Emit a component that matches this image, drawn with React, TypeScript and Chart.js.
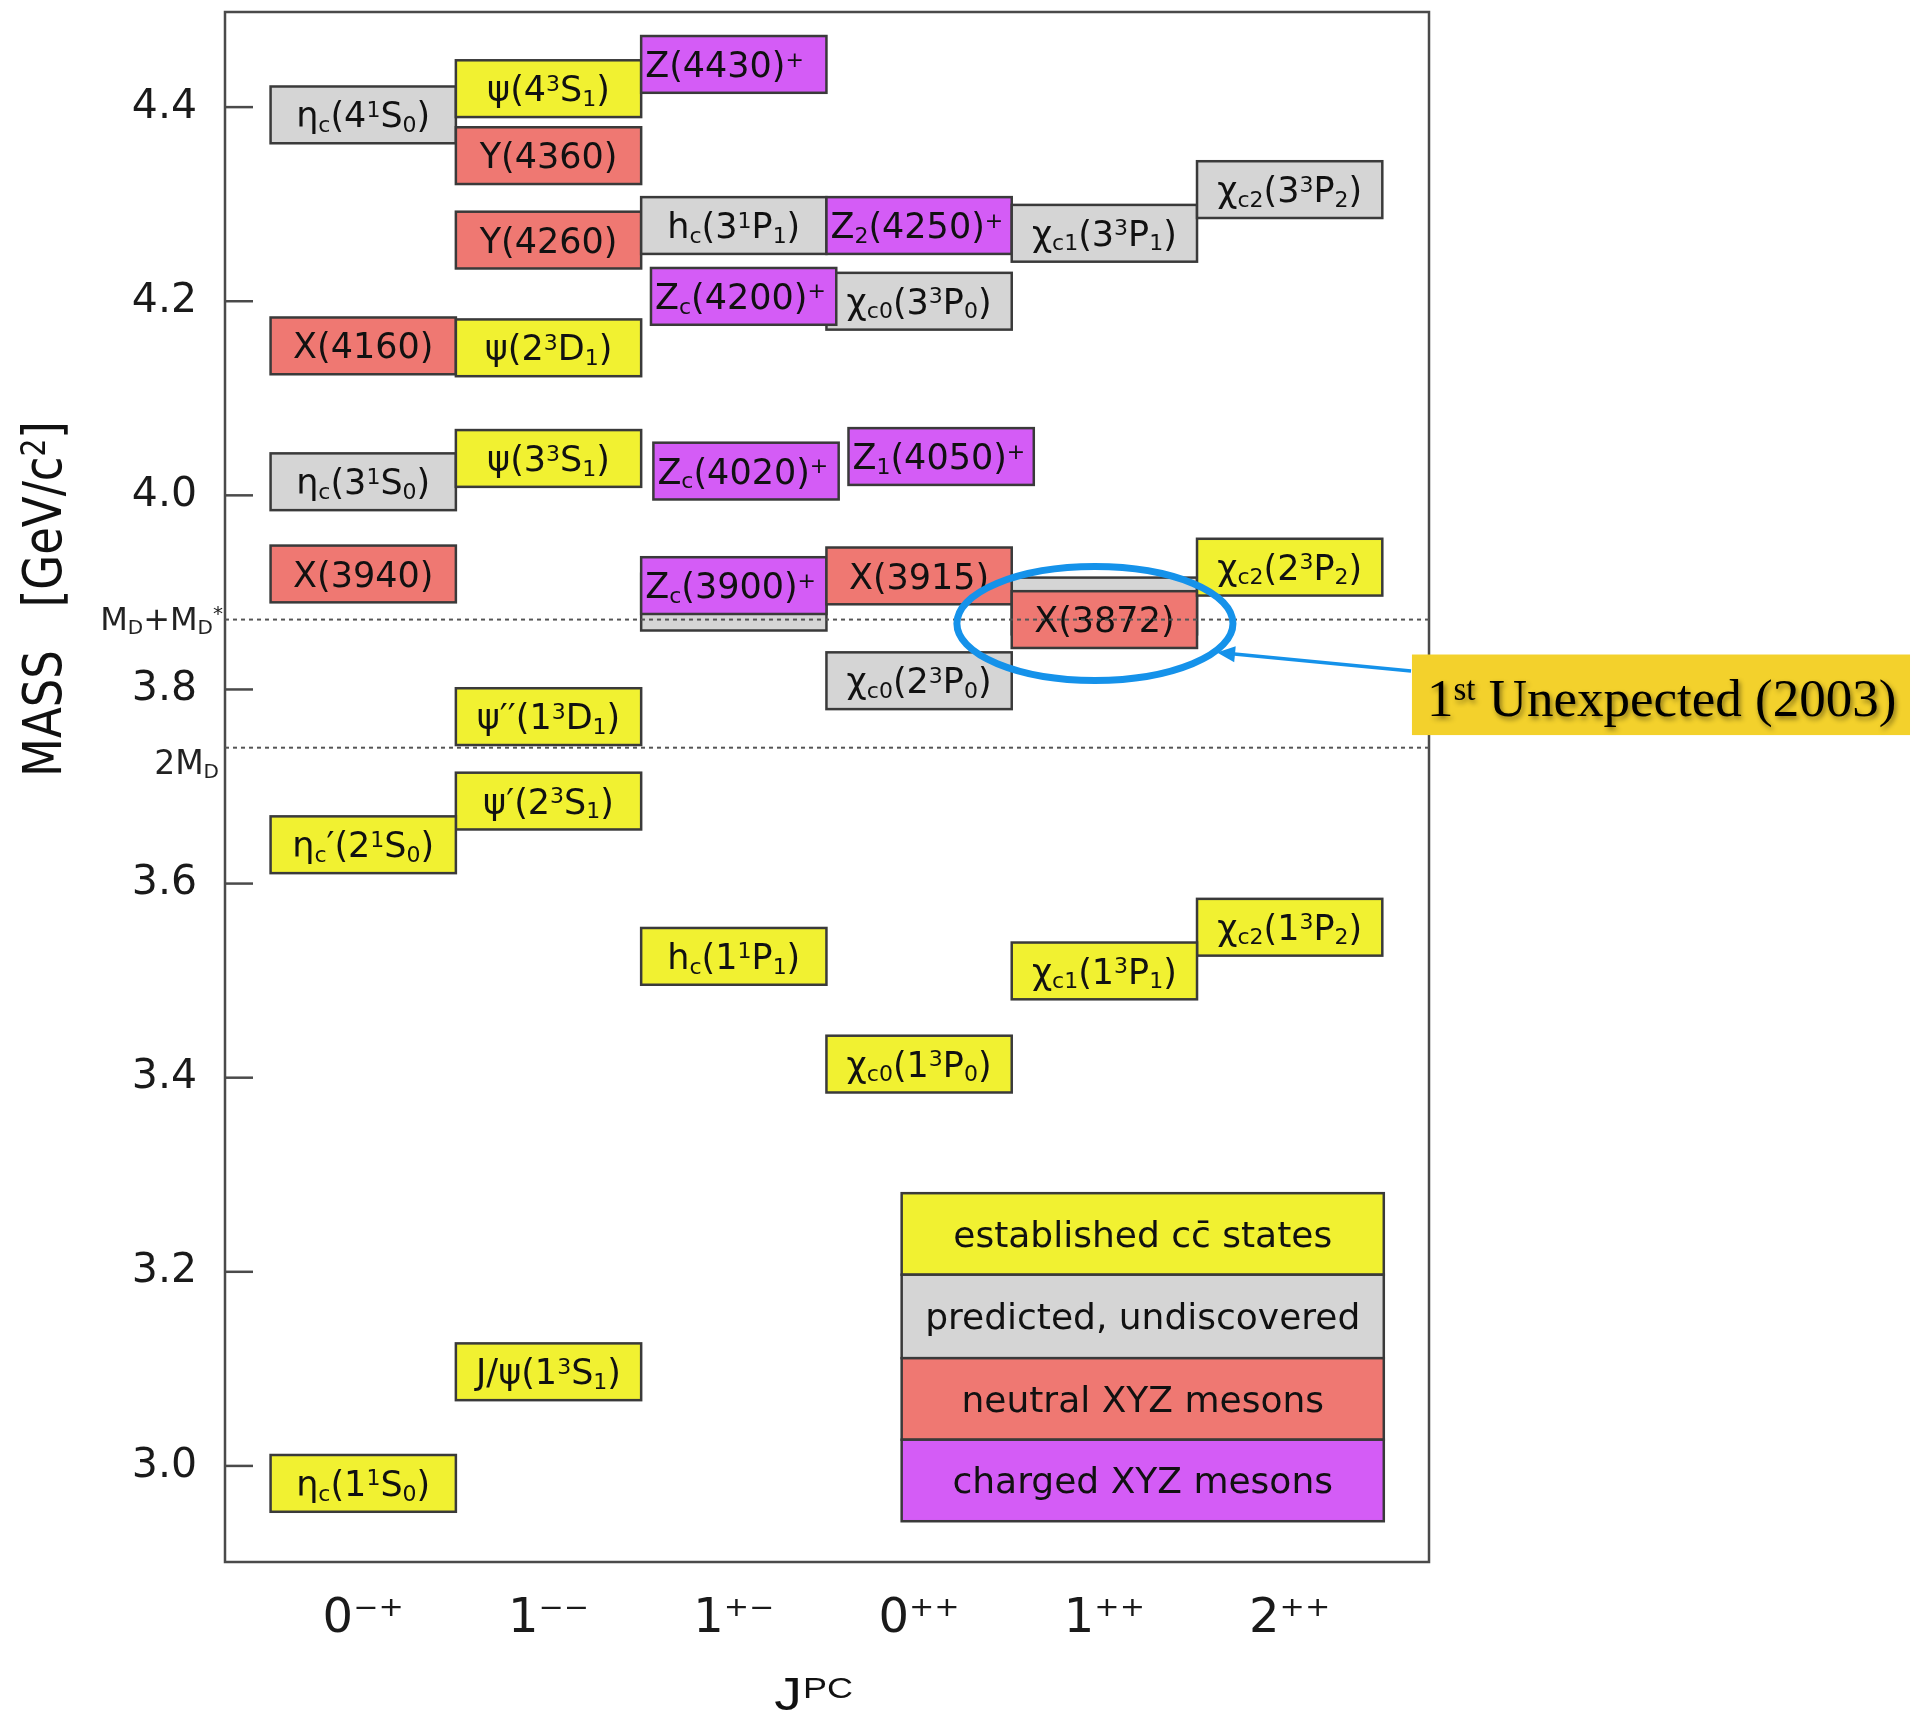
import React, { useEffect, useRef } from "react";
import { Chart, registerables } from "chart.js";

Chart.register(...registerables);

// ---------- data ----------
const jpcCategories = ["0\u207B\u207A", "1\u207B\u207B", "1\u207A\u207B", "0\u207A\u207A", "1\u207A\u207A", "2\u207A\u207A"];
const yTickValues = [3.0, 3.2, 3.4, 3.6, 3.8, 4.0, 4.2, 4.4];

// states in draw order (later ones drawn on top)
const stateNames = [
  "", "",
  "η_c(4^1S_0)", "ψ(4^3S_1)", "Y(4360)", "Z(4430)^+",
  "Y(4260)", "h_c(3^1P_1)", "Z_2(4250)^+", "χ_{c1}(3^3P_1)", "χ_{c2}(3^3P_2)",
  "χ_{c0}(3^3P_0)", "Z_c(4200)^+", "X(4160)", "ψ(2^3D_1)",
  "η_c(3^1S_0)", "ψ(3^3S_1)", "Z_c(4020)^+", "Z_1(4050)^+",
  "X(3940)", "Z_c(3900)^+", "X(3915)", "X(3872)", "χ_{c2}(2^3P_2)", "χ_{c0}(2^3P_0)",
  "ψ′′(1^3D_1)", "ψ′(2^3S_1)", "η_c′(2^1S_0)",
  "h_c(1^1P_1)", "χ_{c2}(1^3P_2)", "χ_{c1}(1^3P_1)", "χ_{c0}(1^3P_0)",
  "J/ψ(1^3S_1)", "η_c(1^1S_0)",
];
const stateColumn = [
  2, 4,
  0, 1, 1, 2,
  1, 2, 3, 4, 5,
  3, 2, 0, 1,
  0, 1, 2, 3,
  0, 2, 3, 4, 5, 3,
  1, 1, 0,
  2, 5, 4, 3,
  1, 0,
];
const stateShift = [
  0, 0,
  0, 0, 0, 0,
  0, 0, 0, 0, 0,
  0, 0.053, 0, 0,
  0, 0, 0.066, 0.119,
  0, 0, 0, 0, 0, 0,
  0, 0, 0,
  0, 0, 0, 0,
  0, 0,
];
const stateMass = [
  3.890, 3.886,
  4.392, 4.419, 4.350, 4.444,
  4.263, 4.278, 4.278, 4.270, 4.315,
  4.200, 4.205, 4.154, 4.152,
  4.014, 4.038, 4.025, 4.040,
  3.919, 3.907, 3.917, 3.872, 3.926, 3.809,
  3.772, 3.685, 3.640,
  3.525, 3.555, 3.510, 3.414,
  3.097, 2.982,
];
const stateKind = [
  "pred", "pred",
  "pred", "est", "neutral", "charged",
  "neutral", "pred", "charged", "pred", "pred",
  "pred", "charged", "neutral", "est",
  "pred", "est", "charged", "charged",
  "neutral", "charged", "neutral", "neutral", "est", "pred",
  "est", "est", "est",
  "est", "est", "est", "est",
  "est", "est",
];

const legendKinds = ["est", "pred", "neutral", "charged"];
const legendNames = ["established cc\u0304 states", "predicted, undiscovered", "neutral XYZ mesons", "charged XYZ mesons"];
const legendEdges = [3.281, 3.197, 3.111, 3.027, 2.943];
const legendXRange = [2.906, 5.508];

const thresholdMass = [3.872, 3.740];
const thresholdNames = ["M_D+M_D^*", "2M_D"];

const highlightCenter = [3.949, 3.868];
const highlightRadii = [0.745, 0.0587];
const arrowFrom = [5.655, 3.819];
const arrowTo = [4.608, 3.838];
const noteBoxX = [5.66, 8.348];
const noteBoxY = [3.836, 3.753];
const noteText = "1^{st} Unexpected (2003)";

// ---------- styles ----------
const BOX_H = 0.0585;
const FILL: Record<string, string> = {
  est: "#f1f131",
  pred: "#d5d5d5",
  neutral: "#ef7872",
  charged: "#d45cf6",
};
const SANS = "'DejaVu Sans', sans-serif";
const ARIAL = "'Liberation Sans', Arial, sans-serif";
const SERIF = "'Liberation Serif', 'Times New Roman', serif";

type Seg = { t: string; k: number };
function parseRich(s: string): Seg[] {
  const out: Seg[] = [];
  let buf = "";
  let i = 0;
  const flush = () => {
    if (buf) out.push({ t: buf, k: 0 });
    buf = "";
  };
  while (i < s.length) {
    const c = s[i];
    if (c === "_" || c === "^") {
      flush();
      let t = "";
      if (s[i + 1] === "{") {
        const j = s.indexOf("}", i + 2);
        t = s.slice(i + 2, j);
        i = j + 1;
      } else {
        t = s[i + 1];
        i += 2;
      }
      out.push({ t, k: c === "_" ? 1 : 2 });
    } else {
      buf += c;
      i++;
    }
  }
  flush();
  return out;
}

function drawRich(
  ctx: CanvasRenderingContext2D,
  s: string,
  x: number,
  yc: number,
  size: number,
  align: "left" | "center" | "right",
  family: string,
  color: string,
  supRaise = 0.3,
  subDrop = 0.13
) {
  const segs = parseRich(s);
  const fontOf = (k: number) => `${k === 0 ? size : Math.round(size * 0.62)}px ${family}`;
  const widths = segs.map((g) => {
    ctx.font = fontOf(g.k);
    return ctx.measureText(g.t).width;
  });
  const total = widths.reduce((a, b) => a + b, 0);
  let cx = align === "center" ? x - total / 2 : align === "right" ? x - total : x;
  const base = yc + 0.36 * size;
  ctx.textAlign = "left";
  ctx.textBaseline = "alphabetic";
  ctx.fillStyle = color;
  segs.forEach((g, i) => {
    ctx.font = fontOf(g.k);
    const y = base + (g.k === 1 ? subDrop * size : g.k === 2 ? -supRaise * size : 0);
    ctx.fillText(g.t, cx, y);
    cx += widths[i];
  });
  return total;
}

const spectrumPlugin = {
  id: "spectrum",
  afterDraw(chart: any) {
    const ctx: CanvasRenderingContext2D = chart.ctx;
    const xs = chart.scales.x;
    const ys = chart.scales.y;
    const area = chart.chartArea;
    const px = (v: number) => xs.getPixelForValue(v);
    const py = (v: number) => ys.getPixelForValue(v);
    const meta = chart.getDatasetMeta(0);
    const halfW = px(0.5) - px(0);
    const halfH = (py(0) - py(BOX_H)) / 2;

    ctx.save();
    // boxes
    meta.data.forEach((pt: any, i: number) => {
      const l = pt.x - halfW;
      const t = pt.y - halfH;
      ctx.fillStyle = FILL[stateKind[i]];
      ctx.fillRect(l, t, halfW * 2, halfH * 2);
      ctx.lineWidth = 2.5;
      ctx.strokeStyle = "#3a3a3a";
      ctx.strokeRect(l, t, halfW * 2, halfH * 2);
      if (stateNames[i]) {
        if (stateKind[i] === "charged") drawRich(ctx, stateNames[i], l + 4, pt.y, 35, "left", SANS, "#111");
        else drawRich(ctx, stateNames[i], pt.x, pt.y, 35, "center", SANS, "#111");
      }
    });

    // frame
    ctx.lineWidth = 2.5;
    ctx.strokeStyle = "#4a4a4a";
    ctx.strokeRect(area.left, area.top, area.right - area.left, area.bottom - area.top);
    // inward tick marks
    ys.ticks.forEach((tk: any) => {
      const y = py(tk.value);
      ctx.beginPath();
      ctx.moveTo(area.left, y);
      ctx.lineTo(area.left + 28, y);
      ctx.stroke();
    });

    // thresholds
    thresholdMass.forEach((m, i) => {
      const y = py(m);
      ctx.save();
      ctx.setLineDash([4, 4]);
      ctx.lineWidth = 2;
      ctx.strokeStyle = "#555";
      ctx.beginPath();
      ctx.moveTo(area.left, y);
      ctx.lineTo(area.right, y);
      ctx.stroke();
      ctx.restore();
      if (i === 0) drawRich(ctx, thresholdNames[i], area.left - 2, y - 1, 32, "right", SANS, "#222");
      else drawRich(ctx, thresholdNames[i], area.left - 6, y + 14, 33, "right", SANS, "#222");
    });

    // legend
    const lx0 = px(legendXRange[0]);
    const lx1 = px(legendXRange[1]);
    legendNames.forEach((name, i) => {
      const t = py(legendEdges[i]);
      const b = py(legendEdges[i + 1]);
      ctx.fillStyle = FILL[legendKinds[i]];
      ctx.fillRect(lx0, t, lx1 - lx0, b - t);
      ctx.lineWidth = 2.5;
      ctx.strokeStyle = "#3a3a3a";
      ctx.strokeRect(lx0, t, lx1 - lx0, b - t);
      drawRich(ctx, name, (lx0 + lx1) / 2, (t + b) / 2, 36, "center", SANS, "#111");
    });

    // y axis title (rotated, slightly stretched)
    ctx.save();
    ctx.translate(42, 599);
    ctx.scale(1.2, 1);
    ctx.rotate(-Math.PI / 2);
    drawRich(ctx, "MASS   [GeV/c^2]", 0, 0, 45, "center", SANS, "#111");
    ctx.restore();

    // x axis title (J with superscript PC), slightly stretched
    ctx.save();
    ctx.fillStyle = "#111";
    ctx.textAlign = "left";
    ctx.textBaseline = "alphabetic";
    ctx.translate(813, 0);
    ctx.scale(1.2, 1);
    ctx.font = `46px ${ARIAL}`;
    const jw = ctx.measureText("J").width;
    ctx.font = `30px ${ARIAL}`;
    const pw = ctx.measureText("PC").width;
    const startX = -(jw + pw) / 2;
    ctx.font = `46px ${ARIAL}`;
    ctx.fillText("J", startX, 1710);
    ctx.font = `30px ${ARIAL}`;
    ctx.fillText("PC", startX + jw + 1, 1698);
    ctx.restore();

    // highlight ellipse
    ctx.save();
    ctx.strokeStyle = "#1592ea";
    ctx.lineWidth = 7;
    ctx.beginPath();
    ctx.ellipse(px(highlightCenter[0]), py(highlightCenter[1]), px(highlightRadii[0]) - px(0), py(0) - py(highlightRadii[1]), 0, 0, Math.PI * 2);
    ctx.stroke();
    // arrow
    const ax0 = px(arrowFrom[0]), ay0 = py(arrowFrom[1]);
    const ax1 = px(arrowTo[0]), ay1 = py(arrowTo[1]);
    ctx.lineWidth = 3.5;
    ctx.beginPath();
    ctx.moveTo(ax0, ay0);
    ctx.lineTo(ax1 + 12, ay1 + 1);
    ctx.stroke();
    const ang = Math.atan2(ay1 - ay0, ax1 - ax0);
    ctx.fillStyle = "#1592ea";
    ctx.beginPath();
    ctx.moveTo(ax1, ay1);
    ctx.lineTo(ax1 - 18 * Math.cos(ang) + 8 * Math.sin(ang), ay1 - 18 * Math.sin(ang) - 8 * Math.cos(ang));
    ctx.lineTo(ax1 - 18 * Math.cos(ang) - 8 * Math.sin(ang), ay1 - 18 * Math.sin(ang) + 8 * Math.cos(ang));
    ctx.closePath();
    ctx.fill();
    ctx.restore();

    // note box
    ctx.save();
    const nx0 = px(noteBoxX[0]), nx1 = px(noteBoxX[1]);
    const ny0 = py(noteBoxY[0]), ny1 = py(noteBoxY[1]);
    ctx.fillStyle = "#f3d12c";
    ctx.fillRect(nx0, ny0, nx1 - nx0, ny1 - ny0);
    ctx.shadowColor = "rgba(0,0,0,0.45)";
    ctx.shadowBlur = 5;
    ctx.shadowOffsetX = 2;
    ctx.shadowOffsetY = 3;
    drawRich(ctx, noteText, nx0 + 15, (ny0 + ny1) / 2 + 2, 53, "left", SERIF, "#000", 0.3, 0.13);
    ctx.restore();

    ctx.restore();
  },
};

export default function App() {
  const ref = useRef<HTMLCanvasElement>(null);
  useEffect(() => {
    const canvas = ref.current;
    if (!canvas) return;
    const chart = new Chart(canvas, {
      type: "scatter",
      data: {
        datasets: [
          {
            data: stateMass.map((m, i) => ({ x: stateColumn[i] + stateShift[i], y: m })),
            pointRadius: 0,
            pointHoverRadius: 0,
            showLine: false,
          },
        ],
      },
      options: {
        responsive: false,
        maintainAspectRatio: false,
        animation: false,
        devicePixelRatio: 1,
        events: [],
        layout: { padding: { top: 12, right: 498, bottom: 0, left: 0 } },
        plugins: { legend: { display: false }, tooltip: { enabled: false } },
        scales: {
          x: {
            type: "linear",
            min: -0.746,
            max: 5.752,
            afterBuildTicks: (s: any) => {
              s.ticks = jpcCategories.map((_, i) => ({ value: i }));
            },
            afterFit: (s: any) => {
              s.height = 149;
              s.paddingLeft = 0;
              s.paddingRight = 0;
            },
            grid: { display: false, drawTicks: false },
            border: { display: false },
            ticks: {
              padding: 29,
              autoSkip: false,
              maxRotation: 0,
              color: "#1a1a1a",
              font: { family: "DejaVu Sans", size: 48 },
              callback: (v: any) => jpcCategories[Number(v)] ?? "",
            },
          },
          y: {
            type: "linear",
            min: 2.901,
            max: 4.498,
            afterBuildTicks: (s: any) => {
              s.ticks = yTickValues.map((v) => ({ value: v }));
            },
            afterFit: (s: any) => {
              s.width = 225;
              s.paddingTop = 0;
              s.paddingBottom = 0;
            },
            grid: { display: false, drawTicks: false },
            border: { display: false },
            ticks: {
              padding: 28,
              autoSkip: false,
              color: "#1a1a1a",
              font: { family: "DejaVu Sans", size: 41 },
              callback: (v: any) => Number(v).toFixed(1),
            },
          },
        },
      },
      plugins: [spectrumPlugin],
    } as any);
    return () => chart.destroy();
  }, []);
  return (
    <div style={{ position: "fixed", left: 0, top: 0, width: 1927, height: 1711, background: "#fff" }}>
      <canvas ref={ref} width={1927} height={1711} style={{ display: "block", width: 1927, height: 1711 }} />
    </div>
  );
}
